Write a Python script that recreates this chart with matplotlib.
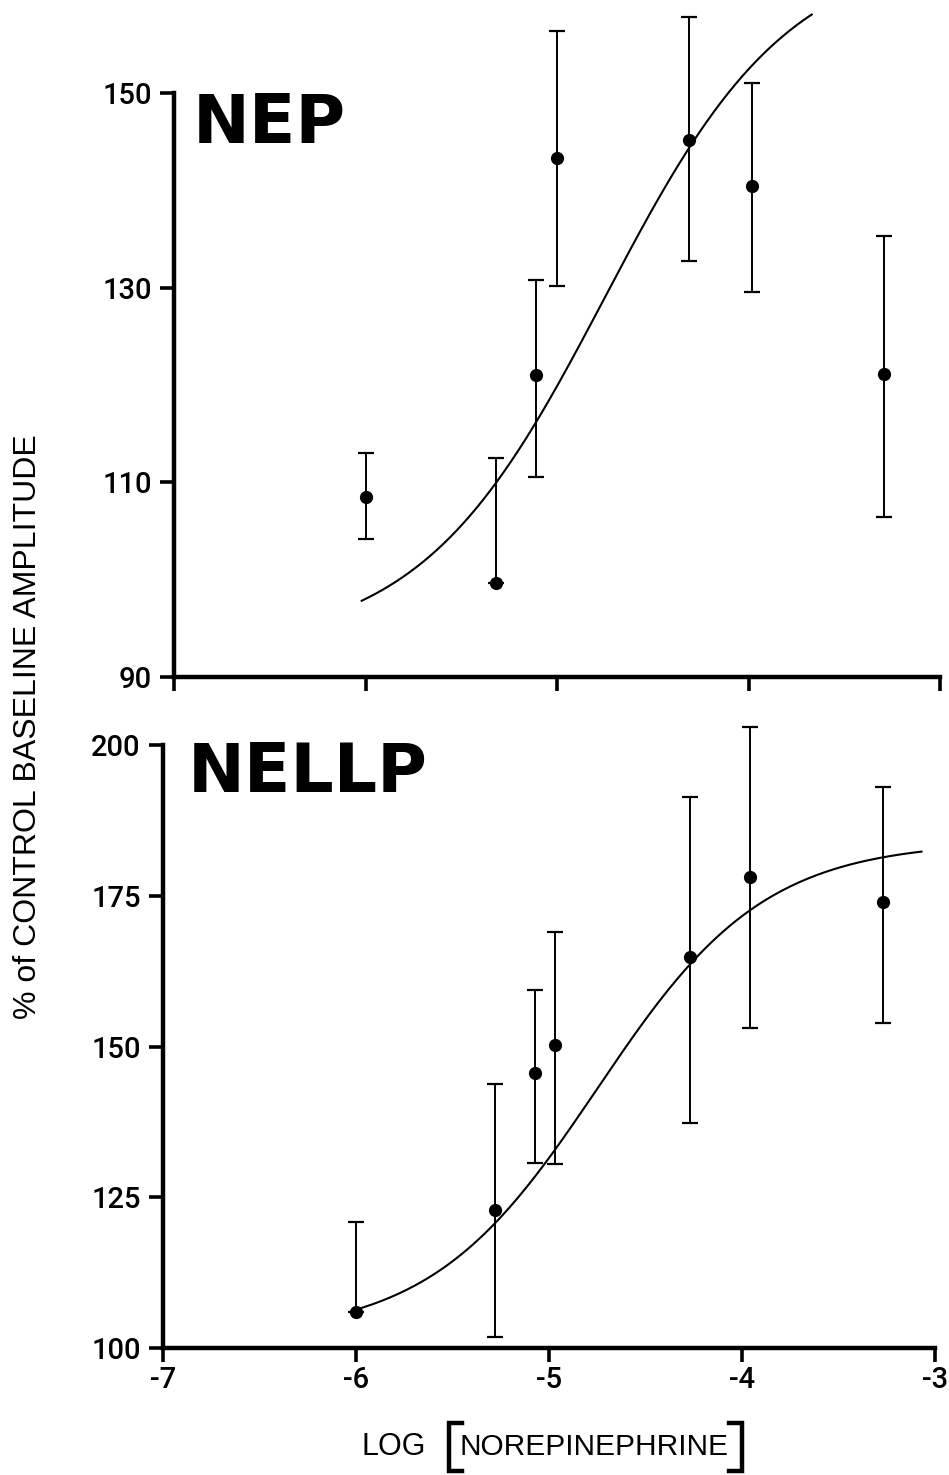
import numpy as np
import matplotlib
matplotlib.use("Agg")
import matplotlib.pyplot as plt
from matplotlib.lines import Line2D

# --- data ---
nep_x = [-6.0, -5.32, -5.11, -5.0, -4.31, -3.98, -3.29]
nep_y = [108.5, 99.7, 121.0, 143.3, 145.2, 140.4, 121.1]
nep_err_hi = [4.5, 12.8, 9.8, 13.1, 12.6, 10.6, 14.2]
nep_err_lo = [4.3, 0.0, 10.5, 13.1, 12.5, 10.8, 14.7]
# fitted sigmoid (bottom, top, logEC50, hill) and drawn range
nep_fit = (93.0, 165.0, -4.75, 0.9)
nep_fit_range = (-6.02, -3.67)

nellp_x = [-6.0, -5.28, -5.07, -4.97, -4.27, -3.96, -3.27]
nellp_y = [106.0, 122.9, 145.6, 150.2, 164.8, 178.1, 174.0]
nellp_err_hi = [14.9, 20.9, 13.8, 18.8, 26.6, 24.9, 19.0]
nellp_err_lo = [0.0, 21.1, 14.9, 19.7, 27.5, 25.0, 20.1]
nellp_fit = (102.0, 184.0, -4.75, 1.0)
nellp_fit_range = (-6.0, -3.07)

x_ticks = [-7, -6, -5, -4, -3]
x_ticklabels = ["-7", "-6", "-5", "-4", "-3"]
nep_yticks = [90, 110, 130, 150]
nellp_yticks = [100, 125, 150, 175, 200]

plt.rcParams['font.family'] = ['Roboto', 'Liberation Sans', 'DejaVu Sans']
LABEL_FONT = ['Liberation Sans', 'DejaVu Sans']

W, H = 949, 1475
fig = plt.figure(figsize=(W / 100, H / 100), dpi=100)


def px_axes(left, right, top, bottom):
    return fig.add_axes([left / W, 1 - bottom / H, (right - left) / W, (bottom - top) / H])


def sigmoid(x, p):
    bottom, top, ec50, hill = p
    return bottom + (top - bottom) / (1 + 10 ** ((ec50 - x) * hill))


def style_axes(ax):
    for s in ['top', 'right']:
        ax.spines[s].set_visible(False)
    for s in ['left', 'bottom']:
        ax.spines[s].set_linewidth(3.2)
        ax.spines[s].set_capstyle('projecting')
    ax.tick_params(direction='out', length=10, width=2.6, labelsize=21, pad=3)
    ax.tick_params(axis='y', pad=6)
    for lab in ax.get_xticklabels() + ax.get_yticklabels():
        lab.set_fontweight('medium')
    ax.set_facecolor('none')


def draw_panel(ax, xs, ys, lo, hi, fit, rng):
    ax.errorbar(xs, ys, yerr=[lo, hi], fmt='o', color='black', ms=8.5,
                elinewidth=1.4, capsize=6, capthick=1.6, clip_on=False, zorder=3)
    xx = np.linspace(rng[0], rng[1], 200)
    ax.plot(xx, sigmoid(xx, fit), color='black', lw=1.5, clip_on=False)


# top panel: NEP
ax1 = px_axes(174, 940, 93, 677)
draw_panel(ax1, nep_x, nep_y, nep_err_lo, nep_err_hi, nep_fit, nep_fit_range)
ax1.set_xlim(-7, -3)
ax1.set_ylim(90, 150)
ax1.set_xticks(x_ticks)
ax1.set_xticklabels([])
ax1.set_yticks(nep_yticks)
style_axes(ax1)

# bottom panel: NELLP
ax2 = px_axes(163, 935, 745, 1348)
draw_panel(ax2, nellp_x, nellp_y, nellp_err_lo, nellp_err_hi, nellp_fit, nellp_fit_range)
ax2.set_xlim(-7, -3)
ax2.set_ylim(100, 200)
ax2.set_xticks(x_ticks)
ax2.set_xticklabels(x_ticklabels)
ax2.set_yticks(nellp_yticks)
style_axes(ax2)

# panel titles
fig.text(193 / W, 1 - 143 / H, "NEP", family='DejaVu Sans', weight='bold',
         fontsize=49, ha='left', va='baseline')
fig.text(188 / W, 1 - 792 / H, "NELLP", family='DejaVu Sans', weight='bold',
         fontsize=49, ha='left', va='baseline')

# axis labels
fig.text(28 / W, 1 - 727 / H, "% of CONTROL BASELINE AMPLITUDE", rotation=90,
         family=LABEL_FONT, fontsize=23, ha='center', va='center')
fig.text(394 / W, 1 - 1447 / H, "LOG", family=LABEL_FONT, fontsize=22,
         ha='center', va='center')
fig.text(594 / W, 1 - 1447 / H, "NOREPINEPHRINE", family=LABEL_FONT, fontsize=21.5,
         ha='center', va='center')

# tall square brackets around NOREPINEPHRINE
def bracket(x_vert, x_end, top, bot):
    xs = [x_end / W, x_vert / W, x_vert / W, x_end / W]
    ys = [1 - top / H, 1 - top / H, 1 - bot / H, 1 - bot / H]
    fig.add_artist(Line2D(xs, ys, color='black', lw=3.2, solid_joinstyle='miter'))

bracket(449, 462, 1423, 1471)
bracket(742, 729, 1423, 1471)

fig.savefig("out.png", dpi=100)
